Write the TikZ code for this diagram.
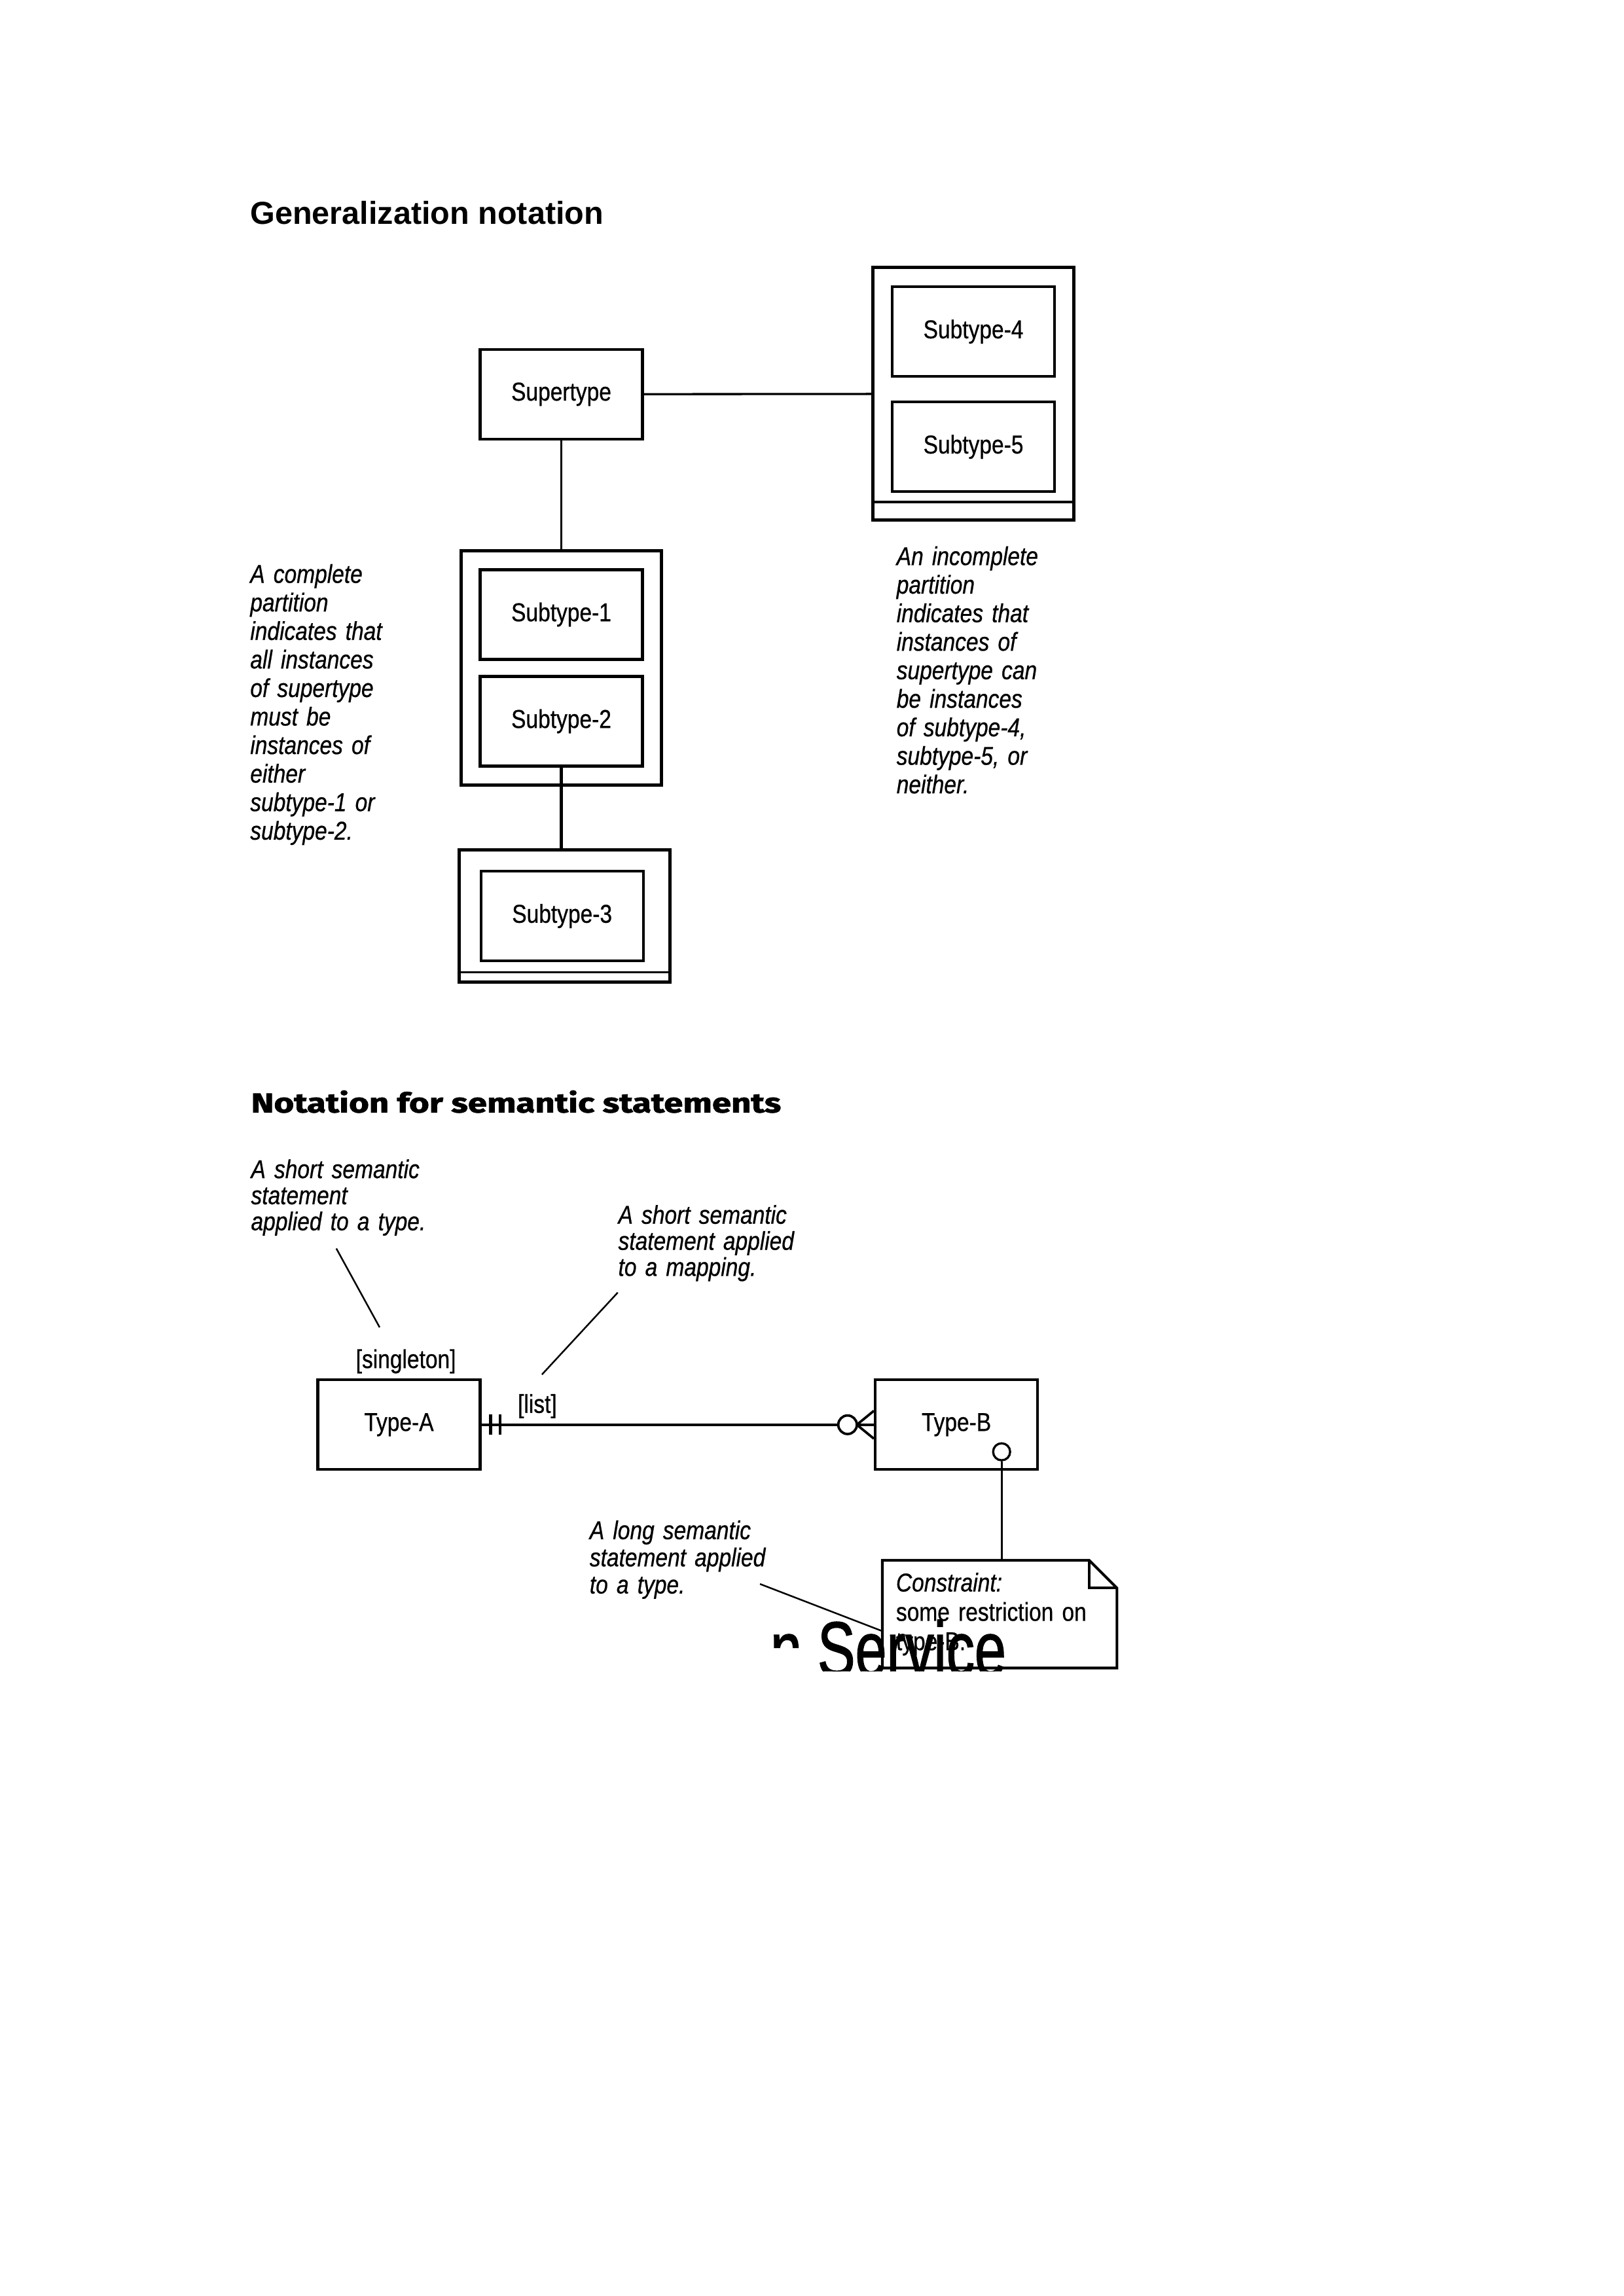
\documentclass[tikz,border=0pt]{standalone}
\usepackage{fontspec}
\setmainfont{Liberation Sans}
\newfontfamily\narrowfont{Liberation Sans}[FakeStretch=0.85, FakeBold=0.6]
\newfontfamily\headfont{Fira Sans}[FakeStretch=1.27, FakeBold=2]
\newfontfamily\bleedfont{Liberation Sans}[FakeBold=1.5]
\usetikzlibrary{fit}

\tikzset{
  typebox/.style={draw, line width=1pt, minimum width=2.1cm, minimum height=1.16cm,
    inner sep=0pt, font=\narrowfont\fontsize{9.5}{10.5}\selectfont},
  partition/.style={draw, line width=1.2pt, inner sep=0.23cm, outer sep=0pt},
  link/.style={line width=0.8pt},
  leader/.style={line width=0.6pt},
  annot/.style={anchor=base west, inner sep=0pt, text width=3cm, align=left,
    font=\narrowfont\itshape\fontsize{9.5}{#1}\selectfont},
  annot/.default=10.5pt,
  tag/.style={inner sep=0pt, font=\narrowfont\fontsize{9.5}{10.5}\selectfont},
}

\begin{document}
\begin{tikzpicture}
  \useasboundingbox (0,0) rectangle (21,29.7);
  % generalization notation
  \node[anchor=base west, inner sep=0pt, font=\bfseries\fontsize{11.7}{13}\selectfont] (gentitle) at (3.23,26.80) {Generalization notation};
  \node[typebox] (super) at (7.26,24.60) {Supertype};
  \node[typebox] (s1) at (7.26,21.75) {Subtype-1};
  \node[typebox] (s2) at (7.26,20.37) {Subtype-2};
  \node[typebox] (s3) at (7.27,17.85) {Subtype-3};
  \node[typebox] (s4) at (12.59,25.41) {Subtype-4};
  \node[typebox] (s5) at (12.59,23.92) {Subtype-5};
  \coordinate (s5low) at ([yshift=-0.12cm]s5.south);
  \coordinate (s3right) at ([xshift=0.07cm]s3.east);
  \node[partition, fit=(s1)(s2)] (complete) {};
  \node[partition, fit=(s4)(s5)(s5low)] (inc45) {};
  \node[partition, inner sep=0.26cm, fit=(s3)(s3right)] (inc3) {};
  \draw[line width=0.9pt] ([yshift=0.235cm]inc45.south west) -- ([yshift=0.235cm]inc45.south east);
  \draw[line width=0.9pt] ([yshift=0.13cm]inc3.south west) -- ([yshift=0.13cm]inc3.south east);
  \draw[link] (super) -- (complete);
  \draw[link] (super) -- (inc45);
  \draw[line width=1.3pt] (s2.south) -- (s2.south |- inc3.north);
  \node[annot] (completetxt) at (3.23,22.16) {A complete\\ partition\\ indicates that\\ all instances\\ of supertype\\ must be\\ instances of\\ either\\ subtype-1 or\\ subtype-2.};
  \node[annot] (inctxt) at (11.59,22.39) {An incomplete\\ partition\\ indicates that\\ instances of\\ supertype can\\ be instances\\ of subtype-4,\\ subtype-5, or\\ neither.};

  % semantic statements
  \node[anchor=base west, inner sep=0pt, font=\headfont\bfseries\fontsize{10}{12}\selectfont] (semtitle) at (3.24,15.31) {Notation for semantic statements};
  \node[annot=9.6pt] (shorttype) at (3.24,14.46) {A short semantic\\ statement\\ applied to a type.};
  \node[annot=9.6pt] (shortmap) at (7.99,13.87) {A short semantic\\ statement applied\\ to a mapping.};
  \node[annot=10pt] (longtype) at (7.62,9.79) {A long semantic\\ statement applied\\ to a type.};
  \node[typebox] (ta) at (5.16,11.27) {Type-A};
  \node[typebox] (tb) at (12.37,11.27) {Type-B};
  \node[tag] (single) at (5.25,12.09) {[singleton]};
  \node[tag] (list) at (6.95,11.51) {[list]};
  \draw[line width=1.1pt] (ta) -- (tb);
  \foreach \d in {0.12,0.24}
    \draw[line width=1.1pt] ([xshift=\d cm,yshift=-0.13cm]ta.east) -- ++(0,0.26);
  \draw[line width=0.9pt] ([xshift=-0.22cm]tb.west) -- ([yshift=0.18cm]tb.west);
  \draw[line width=0.9pt] ([xshift=-0.22cm]tb.west) -- ([yshift=-0.18cm]tb.west);
  \draw[line width=0.9pt, fill=white] ([xshift=-0.34cm]tb.west) circle (0.12cm);
  \node[circle, draw, line width=0.8pt, minimum size=0.22cm, inner sep=0pt] (bc) at ([xshift=0.585cm,yshift=-0.35cm]tb.center) {};
  \node[inner sep=0pt, inner xsep=0.17cm, text width=2.68cm, minimum height=1.38cm, align=left,
    font=\narrowfont\fontsize{9.5}{10.8}\selectfont] (note) at (12.93,8.82) {\textit{Constraint:}\\ some restriction on\\ type-B.};
  \draw[line width=1pt] (note.north west) -- ([xshift=-0.36cm]note.north east) -- ([yshift=-0.36cm]note.north east)
    -- (note.south east) -- (note.south west) -- cycle;
  \draw[line width=1pt] ([xshift=-0.36cm]note.north east) -- ([xshift=-0.36cm,yshift=-0.36cm]note.north east)
    -- ([yshift=-0.36cm]note.north east);
  \draw[link] (bc) -- (bc |- note.north);
  \coordinate (l1a) at (4.35,13.55);
  \coordinate (l1b) at (4.91,12.53);
  \draw[leader] (l1a) -- (l1b);
  \coordinate (l2a) at (7.99,12.98);
  \coordinate (l2b) at (7.01,11.92);
  \draw[leader] (l2a) -- (l2b);
  \coordinate (l3a) at (9.83,9.21);
  \draw[leader] (l3a) -- ([yshift=-0.22cm]note.west);

  % bleed-through from the facing page
  \begin{scope}
    \clip (9.74,8.38) rectangle (10.50,9.04) (10.50,8.08) rectangle (13.55,9.04);
    \node[anchor=base west, inner sep=0pt, xscale=0.73, transform shape, font=\bleedfont\fontsize{28.5}{30}\selectfont] (bleed) at (9.96,8.02) {n Service};
  \end{scope}
\end{tikzpicture}
\end{document}
